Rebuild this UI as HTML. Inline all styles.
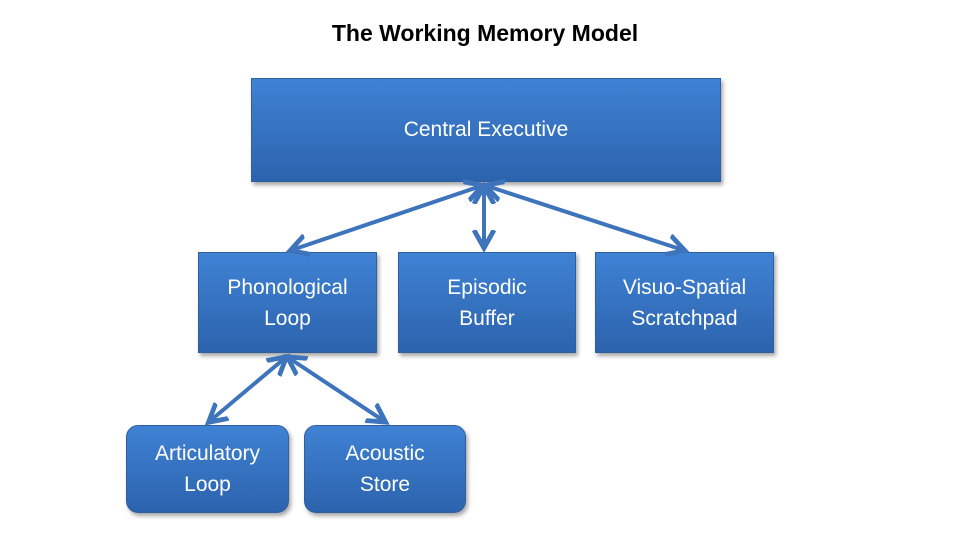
<!DOCTYPE html>
<html><head><style>
body{margin:0;width:960px;height:540px;background:#fff;position:relative;overflow:hidden;font-family:"Liberation Sans",sans-serif}
.t{position:absolute;top:20px;left:0;width:970px;text-align:center;font-weight:bold;font-size:23px;color:#000}
.b{position:absolute;background:linear-gradient(#3f82d4,#2c63ad);color:#fff;display:flex;align-items:center;justify-content:center;text-align:center;font-size:21px;line-height:31px;box-shadow:2px 3px 4px rgba(0,0,0,.35);border:1px solid #2f5f9e;box-sizing:border-box}
.r{border-radius:12px}
</style></head><body>
<div class="t">The Working Memory Model</div>
<div class="b" style="left:251px;top:78px;width:470px;height:104px;padding-bottom:2px">Central Executive</div>
<div class="b" style="left:198px;top:252px;width:179px;height:101px">Phonological<br>Loop</div>
<div class="b" style="left:398px;top:252px;width:178px;height:101px">Episodic<br>Buffer</div>
<div class="b" style="left:595px;top:252px;width:179px;height:101px">Visuo-Spatial<br>Scratchpad</div>
<div class="b r" style="left:126px;top:425px;width:163px;height:88px">Articulatory<br>Loop</div>
<div class="b r" style="left:304px;top:425px;width:162px;height:88px">Acoustic<br>Store</div>
<svg width="960" height="540" style="position:absolute;left:0;top:0">
<defs><marker id="a" markerWidth="6" markerHeight="6" refX="4" refY="3" orient="auto-start-reverse" markerUnits="strokeWidth"><path d="M0,0.5 L4.5,3 L0,5.5" fill="none" stroke="#3e74bb" stroke-width="1.2"/></marker></defs>
<g stroke="#3e74bb" stroke-width="4" fill="none" marker-start="url(#a)" marker-end="url(#a)">
<line x1="481" y1="186" x2="292" y2="250"/>
<line x1="484" y1="188" x2="484" y2="246"/>
<line x1="487" y1="186" x2="683" y2="250"/>
<line x1="285" y1="358" x2="210" y2="421"/>
<line x1="289" y1="358" x2="384" y2="421"/>
</g></svg>
</body></html>
